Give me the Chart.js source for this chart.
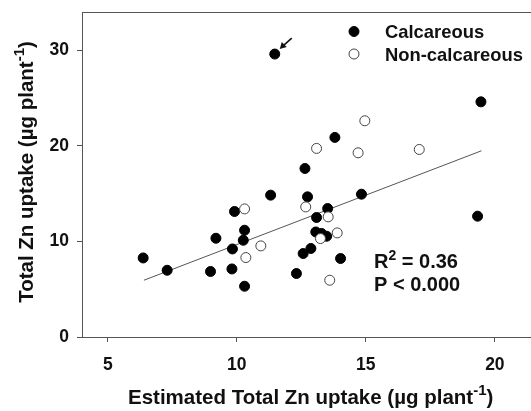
<!DOCTYPE html>
<html>
<head>
<meta charset="utf-8">
<script src="https://cdn.jsdelivr.net/npm/chart.js@4.4.0/dist/chart.umd.min.js"></script>
<style>
  html, body { margin: 0; padding: 0; background: #fff; }
  #wrap { width: 531px; height: 411px; }
</style>
</head>
<body>
<div id="wrap"><canvas id="zn" width="531" height="411"></canvas></div>
<script>
// Calcareous soils (filled)
const calcX = [6.37, 7.30, 8.98, 9.19, 9.91, 9.81, 9.83, 10.30, 10.25, 10.30, 11.31, 12.64, 12.74, 13.52,
  13.09, 13.06, 13.28, 13.48, 12.87, 12.57, 12.31, 14.02, 13.80, 14.83, 11.47, 19.46, 19.33];
const calcY = [8.27, 6.98, 6.85, 10.33, 13.13, 7.12, 9.21, 11.17, 10.12, 5.31, 14.84, 17.63, 14.66, 13.44,
  12.50, 10.99, 10.83, 10.54, 9.26, 8.73, 6.64, 8.21, 20.88, 14.94, 29.6, 24.6, 12.64];

// Non-calcareous soils (open)
const nonX = [10.30, 10.35, 10.93, 12.67, 13.54, 13.24, 13.89, 13.60, 13.09, 14.70, 14.96, 17.07];
const nonY = [13.40, 8.31, 9.53, 13.61, 12.57, 10.30, 10.89, 5.94, 19.73, 19.27, 22.62, 19.62];

// fitted line end points
const fitX = [6.4, 19.48];
const fitY = [5.94, 19.48];

const xTicks = [5, 10, 15, 20];
const yTicks = [0, 10, 20, 30];

const FONT = '"Liberation Sans", Arial, sans-serif';
const INK = '#111';
const AXIS = '#555';

function pts(xs, ys) {
  return xs.map((x, i) => ({ x: x, y: ys[i] }));
}

// draws text pieces, some as superscript, returns end x
function drawParts(ctx, parts, x, y, size) {
  parts.forEach(p => {
    const s = p.sup ? Math.round(size * 0.72) : size;
    ctx.font = 'bold ' + s + 'px ' + FONT;
    ctx.fillText(p.t, x, p.sup ? y - size * 0.42 : y);
    x += ctx.measureText(p.t).width;
  });
  return x;
}
function partsWidth(ctx, parts, size) {
  let w = 0;
  parts.forEach(p => {
    const s = p.sup ? Math.round(size * 0.72) : size;
    ctx.font = 'bold ' + s + 'px ' + FONT;
    w += ctx.measureText(p.t).width;
  });
  return w;
}

const extras = {
  id: 'extras',
  afterDraw(chart) {
    const ctx = chart.ctx;
    const a = chart.chartArea;
    const xs = chart.scales.x, ys = chart.scales.y;
    ctx.save();

    // top frame line
    ctx.strokeStyle = AXIS;
    ctx.lineWidth = 1;
    ctx.beginPath();
    ctx.moveTo(a.left, a.top + 0.5);
    ctx.lineTo(a.right, a.top + 0.5);
    ctx.stroke();

    ctx.fillStyle = INK;
    ctx.textBaseline = 'alphabetic';

    // x title
    const xt = [{ t: 'Estimated Total Zn uptake (µg plant' }, { t: '-1', sup: true }, { t: ')' }];
    drawParts(ctx, xt, 128, 404, 20.5);

    // y title
    const yt = [{ t: 'Total Zn uptake (µg plant' }, { t: '-1', sup: true }, { t: ')' }];
    const yw = partsWidth(ctx, yt, 20.5);
    ctx.save();
    ctx.translate(33, 172);
    ctx.rotate(-Math.PI / 2);
    drawParts(ctx, yt, -yw / 2, 0, 20.5);
    ctx.restore();

    // legend
    const ds = chart.data.datasets;
    const leg = [[ds[0], 31.5], [ds[1], 54]];
    leg.forEach(([d, y]) => {
      ctx.beginPath();
      ctx.arc(354, y, 5, 0, Math.PI * 2);
      ctx.fillStyle = d.backgroundColor;
      ctx.fill();
      ctx.lineWidth = d.borderWidth;
      ctx.strokeStyle = d.borderColor;
      ctx.stroke();
      ctx.fillStyle = INK;
      ctx.font = 'bold 18.4px ' + FONT;
      ctx.fillText(d.label, 385, y + 6.5);
    });

    // statistics
    ctx.fillStyle = INK;
    drawParts(ctx, [{ t: 'R' }, { t: '2', sup: true }, { t: ' = 0.36' }], 374, 268, 20);
    drawParts(ctx, [{ t: 'P < 0.000' }], 374, 290.5, 20);

    // arrow pointing at the outlier
    const px = xs.getPixelForValue(11.47), py = ys.getPixelForValue(29.6);
    const hx = px + 5, hy = py - 5;
    ctx.strokeStyle = INK;
    ctx.fillStyle = INK;
    ctx.lineWidth = 1.6;
    ctx.beginPath();
    ctx.moveTo(hx + 12, hy - 11);
    ctx.lineTo(hx + 3, hy - 3);
    ctx.stroke();
    ctx.beginPath();
    ctx.moveTo(hx, hy);
    ctx.lineTo(hx + 7, hy - 2);
    ctx.lineTo(hx + 2, hy - 7);
    ctx.closePath();
    ctx.fill();

    ctx.restore();
  }
};

const tickFont = { family: FONT, size: 17.5, weight: 'bold' };

new Chart(document.getElementById('zn'), {
  type: 'scatter',
  data: {
    datasets: [{
      label: 'Calcareous',
      data: pts(calcX, calcY),
      backgroundColor: '#000',
      borderColor: '#000',
      borderWidth: 1,
      pointRadius: 5,
      order: 2
    }, {
      label: 'Non-calcareous',
      data: pts(nonX, nonY),
      backgroundColor: '#fff',
      borderColor: '#444',
      borderWidth: 1,
      pointRadius: 5,
      order: 1
    }, {
      label: 'fit',
      type: 'line',
      data: pts(fitX, fitY),
      borderColor: '#555',
      borderWidth: 1,
      pointRadius: 0,
      fill: false,
      order: 3
    }]
  },
  options: {
    responsive: false,
    animation: false,
    layout: { autoPadding: false, padding: { top: 12, right: 0, left: 0, bottom: 0 } },
    plugins: {
      legend: { display: false },
      tooltip: { enabled: false }
    },
    scales: {
      x: {
        type: 'linear',
        min: 4,
        max: 21.4,
        afterFit: s => { s.height = 74; s.paddingLeft = 0; s.paddingRight = 0; },
        afterBuildTicks: s => { s.ticks = xTicks.map(v => ({ value: v })); },
        border: { display: true, color: AXIS, width: 1 },
        grid: { drawOnChartArea: false, drawTicks: true, tickLength: 5, color: AXIS },
        ticks: { font: tickFont, color: INK, padding: 13, maxRotation: 0 }
      },
      y: {
        type: 'linear',
        min: 0,
        max: 34,
        afterFit: s => { s.width = 82; s.paddingTop = 0; s.paddingBottom = 0; },
        afterBuildTicks: s => { s.ticks = yTicks.map(v => ({ value: v })); },
        border: { display: true, color: AXIS, width: 1 },
        grid: { drawOnChartArea: false, drawTicks: true, tickLength: 5, color: AXIS },
        ticks: { font: tickFont, color: INK, padding: 8 }
      }
    }
  },
  plugins: [extras]
});
</script>
</body>
</html>
